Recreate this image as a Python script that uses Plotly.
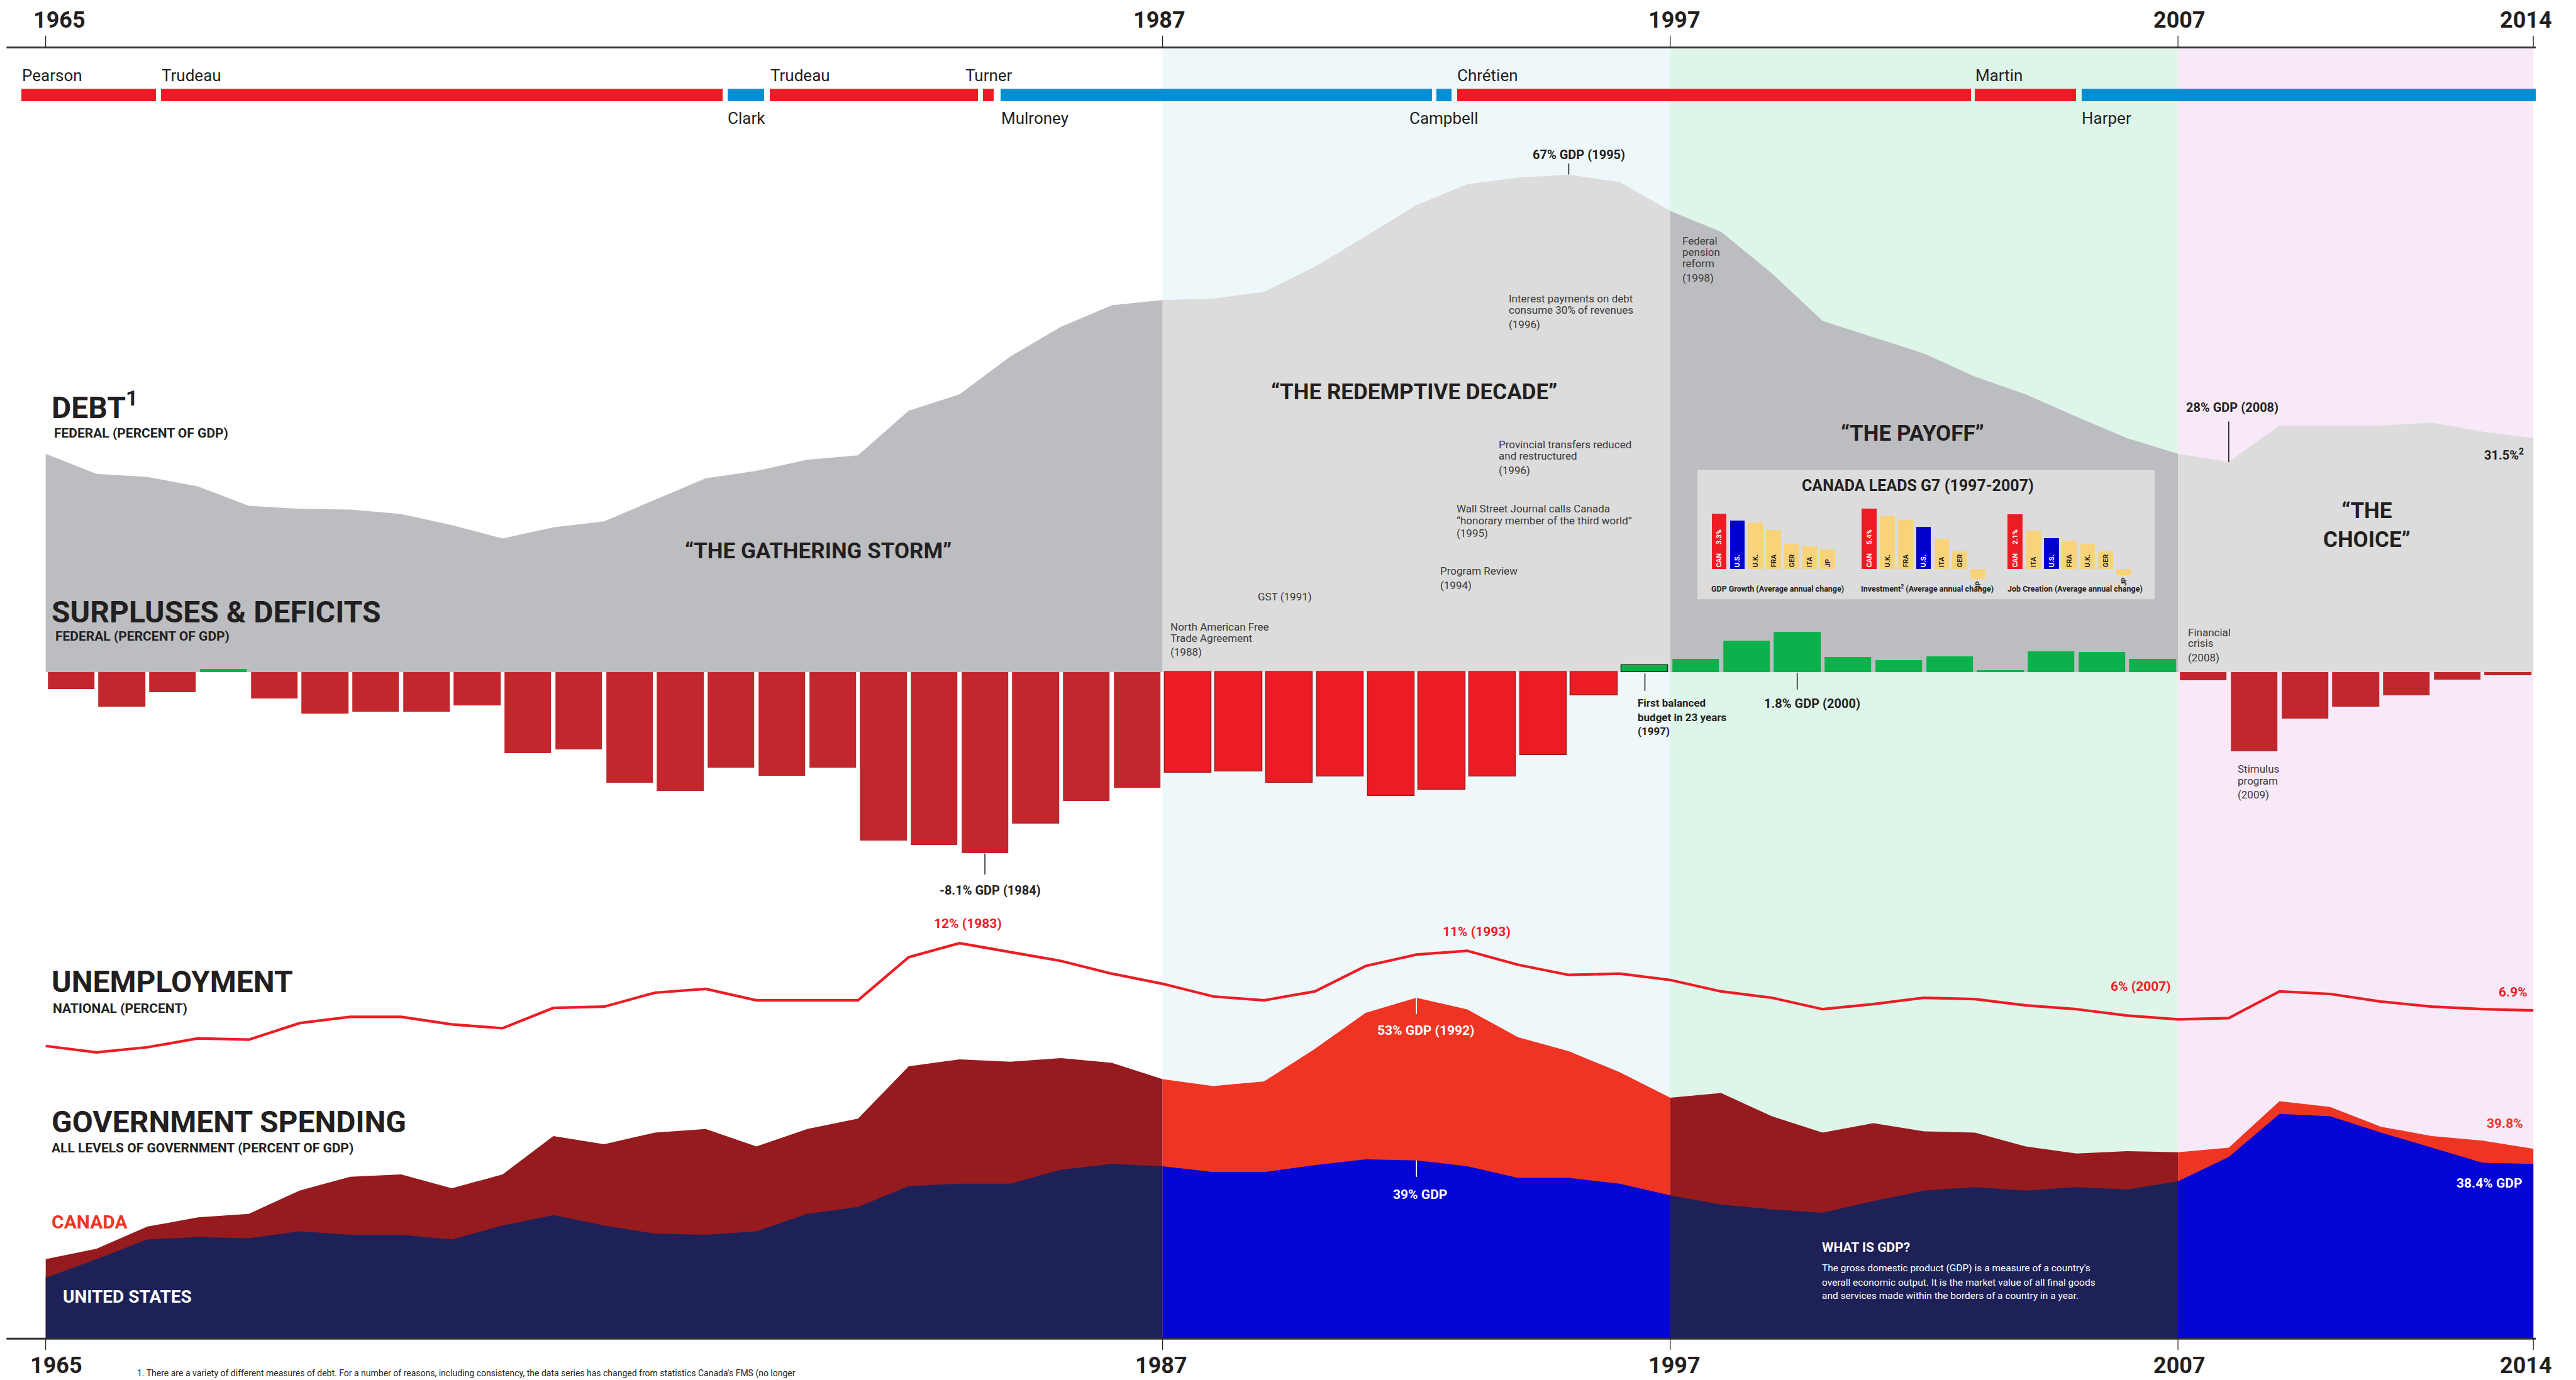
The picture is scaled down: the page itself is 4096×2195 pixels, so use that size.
import plotly.graph_objects as go

# ---------------------------------------------------------------- data
YEARS = list(range(1965, 2015))
DEBT_PCT_GDP = [29.4, 26.7, 26.3, 25.0, 22.4, 22.0, 21.9, 21.3, 19.8, 18.0,
                19.5, 20.3, 23.2, 26.1, 27.1, 28.6, 29.2, 35.2, 37.4, 42.5,
                46.5, 49.4, 50.1, 50.3, 51.2, 54.6, 58.7, 62.9, 65.7, 66.6,
                67.0, 66.0, 62.1, 59.3, 53.7, 47.3, 45.1, 42.9, 39.8, 37.4,
                34.4, 31.5, 29.4, 28.3, 33.2, 33.2, 33.2, 33.6, 32.4, 31.5]

FISCAL_YEARS = list(range(1966, 2015))
BALANCE_PCT_GDP = [-0.74, -1.54, -0.89, 0.14, -1.18, -1.85, -1.77, -1.77, -1.47, -3.61,
                   -3.46, -4.93, -5.30, -4.26, -4.64, -4.26, -7.51, -7.72, -8.09, -6.77,
                   -5.75, -5.17, -4.49, -4.43, -4.94, -4.65, -5.53, -5.24, -4.65, -3.70,
                   -1.04, 0.32, 0.59, 1.40, 1.79, 0.69, 0.54, 0.71, 0.09, 0.92,
                   0.90, 0.59, -0.36, -3.53, -2.07, -1.55, -1.04, -0.32, -0.15]

UNEMPLOYMENT = [3.9, 3.4, 3.8, 4.5, 4.4, 5.7, 6.2, 6.2, 5.6, 5.3,
                6.9, 7.0, 8.1, 8.4, 7.5, 7.5, 7.5, 10.9, 12.0, 11.3,
                10.6, 9.6, 8.8, 7.8, 7.5, 8.2, 10.2, 11.1, 11.4, 10.3,
                9.5, 9.6, 9.1, 8.2, 7.7, 6.8, 7.2, 7.7, 7.6, 7.1,
                6.8, 6.3, 6.0, 6.1, 8.2, 8.0, 7.4, 7.0, 6.8, 6.7]

SPEND_CANADA = [30.5, 31.4, 33.3, 34.1, 34.4, 36.4, 37.6, 37.8, 36.6, 37.8,
                41.1, 40.4, 41.4, 41.7, 40.2, 41.7, 42.6, 47.1, 47.7, 47.5,
                47.8, 47.4, 46.0, 45.4, 45.8, 48.6, 51.7, 53.0, 52.0, 49.6,
                48.4, 46.6, 44.4, 44.8, 42.8, 41.4, 42.2, 41.5, 41.4, 40.2,
                39.6, 39.8, 39.7, 40.1, 44.1, 43.6, 41.9, 41.1, 40.7, 40.0]
SPEND_US = [28.9, 30.5, 32.2, 32.4, 32.3, 32.9, 32.6, 32.6, 32.2, 33.4,
            34.3, 33.4, 32.7, 32.6, 32.9, 34.4, 35.0, 36.8, 37.0, 37.0,
            38.2, 38.7, 38.5, 38.0, 38.0, 38.6, 39.1, 39.0, 38.5, 37.5,
            37.5, 37.0, 36.0, 35.2, 34.8, 34.5, 35.5, 36.4, 36.7, 36.4,
            36.7, 36.5, 37.2, 39.3, 43.0, 42.8, 41.4, 40.1, 38.8, 38.7]

PM_NAMES = ["Pearson", "Trudeau", "Clark", "Trudeau", "Turner",
            "Mulroney", "Campbell", "Chrétien", "Martin", "Harper"]
PM_PARTY = ["Liberal", "Liberal", "Conservative", "Liberal", "Liberal",
            "Conservative", "Conservative", "Liberal", "Liberal", "Conservative"]
PM_START = [1964.53, 1967.28, 1978.43, 1979.27, 1983.47,
            1983.81, 1992.39, 1992.80, 2003.00, 2005.10]
PM_END = [1967.18, 1978.33, 1979.15, 1983.37, 1983.68,
          1992.31, 1992.69, 2002.92, 2005.00, 2014.05]

G7_GDP_COUNTRIES = ["CAN", "U.S.", "U.K.", "FRA", "GER", "ITA", "JP"]
G7_GDP_GROWTH = [3.3, 2.9, 2.8, 2.35, 1.53, 1.36, 1.16]
G7_INV_COUNTRIES = ["CAN", "U.K.", "FRA", "U.S.", "ITA", "GER", "JP"]
G7_INVESTMENT = [5.4, 4.77, 4.38, 3.80, 2.71, 1.59, -0.86]
G7_JOB_COUNTRIES = ["CAN", "ITA", "U.S.", "FRA", "U.K.", "GER", "JP"]
G7_JOB_CREATION = [2.1, 1.48, 1.18, 1.08, 0.97, 0.68, -0.22]

ERA_BOUNDS = [1965, 1987, 1997, 2007, 2014]
TICK_YEARS = [1965, 1987, 1997, 2007, 2014]

# ---------------------------------------------------------------- geometry helpers
REF_W, REF_H = 5920.0, 3172.0
OUT_W, OUT_H = 4096, 2195


def px(x):
    return x / REF_W


def py(y):
    return 1 - y / REF_H


YEAR_PX0, YEAR_PX1 = 105.0, 5822.0           # reference px of 1965 / 2014
PX_PER_YEAR = (YEAR_PX1 - YEAR_PX0) / 49.0
X_RANGE = [1964.4, 2014.2]
X_DOMAIN = [px(YEAR_PX0 + (X_RANGE[0] - 1965) * PX_PER_YEAR),
            px(YEAR_PX0 + (X_RANGE[1] - 1965) * PX_PER_YEAR)]

ZERO_LINE = 1545.0       # debt / balance baseline (ref px)
DEBT_SCALE = 17.07       # ref px per % GDP
BAL_SCALE = 51.5
UNEMP_SCALE, UNEMP_REF_V, UNEMP_REF_Y = 29.17, 12.0, 2168.0
SPEND_SCALE, SPEND_ZERO_Y, AXIS_BOTTOM = 26.71, 3709.0, 3077.0

FONT = "Roboto, 'Noto Sans', 'DejaVu Sans', sans-serif"
DARK = "#231F20"
NOTE = "#3A3A3A"
RED = "#ED1C24"
SPEND_RED = "#EE3524"
WHITE = "#FFFFFF"

DEBT_COLORS = ["#BCBDC0", "#DCDCDC", "#BCBDC0", "#DCDCDC"]
CAN_COLORS = ["#951B1F", "#EE3524", "#951B1F", "#EE3524"]
US_COLORS = ["#1E2157", "#0505D4", "#1E2157", "#0505D4"]
BAND_COLORS = [None, "#EEF7F9", "#DEF5E9", "#F7E9F8"]
PARTY_COLORS = {"Liberal": "#ED1C24", "Conservative": "#008FD5"}

fig = go.Figure()

# ---------------------------------------------------------------- debt area
for i in range(4):
    a, b = ERA_BOUNDS[i], ERA_BOUNDS[i + 1]
    idx = [k for k, yr in enumerate(YEARS) if a <= yr <= b]
    fig.add_trace(go.Scatter(
        x=[YEARS[k] for k in idx], y=[DEBT_PCT_GDP[k] for k in idx],
        mode="lines", fill="tozeroy", fillcolor=DEBT_COLORS[i],
        line=dict(width=0, color=DEBT_COLORS[i]),
        xaxis="x", yaxis="y", hoverinfo="skip", showlegend=False))

# ---------------------------------------------------------------- surplus / deficit bars
bar_x = [fy - 0.5 for fy in FISCAL_YEARS]
b_col, b_lcol, b_lw = [], [], []
for xc, v in zip(bar_x, BALANCE_PCT_GDP):
    era = next(i for i in range(4) if ERA_BOUNDS[i] <= xc < ERA_BOUNDS[i + 1])
    if v >= 0:
        b_col.append("#0DB14B")
        b_lcol.append("#17381F" if era == 1 else "#0DB14B")
    elif era == 1:
        b_col.append("#EC1C24")
        b_lcol.append("#A3161C")
    else:
        b_col.append("#C1272D")
        b_lcol.append("#C1272D")
    b_lw.append(1.5 if era == 1 else 0)
fig.add_trace(go.Bar(
    x=bar_x, y=BALANCE_PCT_GDP, width=0.92,
    marker=dict(color=b_col, line=dict(color=b_lcol, width=b_lw)),
    xaxis="x", yaxis="y2", hoverinfo="skip", showlegend=False))

# ---------------------------------------------------------------- unemployment
fig.add_trace(go.Scatter(
    x=YEARS, y=UNEMPLOYMENT, mode="lines",
    line=dict(color=RED, width=4.2),
    xaxis="x", yaxis="y3", hoverinfo="skip", showlegend=False))

# ---------------------------------------------------------------- government spending
for i in range(4):
    a, b = ERA_BOUNDS[i], ERA_BOUNDS[i + 1]
    idx = [k for k, yr in enumerate(YEARS) if a <= yr <= b]
    xs = [YEARS[k] for k in idx]
    fig.add_trace(go.Scatter(
        x=xs, y=[SPEND_CANADA[k] for k in idx], mode="lines", fill="tozeroy",
        fillcolor=CAN_COLORS[i], line=dict(width=0, color=CAN_COLORS[i]),
        xaxis="x", yaxis="y4", hoverinfo="skip", showlegend=False))
    fig.add_trace(go.Scatter(
        x=xs, y=[SPEND_US[k] for k in idx], mode="lines", fill="tozeroy",
        fillcolor=US_COLORS[i], line=dict(width=0, color=US_COLORS[i]),
        xaxis="x", yaxis="y4", hoverinfo="skip", showlegend=False))

# ---------------------------------------------------------------- prime minister strip
fig.add_trace(go.Bar(
    orientation="h", y=[0] * len(PM_NAMES),
    x=[e - s for s, e in zip(PM_START, PM_END)], base=PM_START, width=1,
    marker=dict(color=[PARTY_COLORS[p] for p in PM_PARTY], line=dict(width=0)),
    xaxis="x", yaxis="y5", hoverinfo="skip", showlegend=False))

# ---------------------------------------------------------------- G7 inset
MINI_OFFSETS = [0.0, 8.29, 16.35]
MINI_WIDTH = 0.82
MINI_SETS = [(G7_GDP_COUNTRIES, G7_GDP_GROWTH, "y6"),
             (G7_INV_COUNTRIES, G7_INVESTMENT, "y7"),
             (G7_JOB_COUNTRIES, G7_JOB_CREATION, "y8")]
MINI_FILL = {"CAN": "#ED1C24", "U.S.": "#0000CC"}
for off, (names, vals, yax) in zip(MINI_OFFSETS, MINI_SETS):
    texts, tcols, tpos, cols = [], [], [], []
    for n, v in zip(names, vals):
        texts.append(f"{n}\u2003 {v:.1f}%" if n == "CAN" else n)
        tcols.append(WHITE if n in MINI_FILL else DARK)
        cols.append(MINI_FILL.get(n, "#F8D37A"))
        tpos.append("inside" if v >= 0 else "outside")
    fig.add_trace(go.Bar(
        x=[off + i for i in range(len(names))], y=vals, width=MINI_WIDTH,
        marker=dict(color=cols, line=dict(width=0)),
        text=texts, textposition=tpos, textangle=-90,
        insidetextanchor="start", constraintext="none", cliponaxis=False,
        textfont=dict(family=FONT, size=11, color=tcols, weight=700),
        outsidetextfont=dict(family=FONT, size=11, color=tcols, weight=700),
        xaxis="x2", yaxis=yax, hoverinfo="skip", showlegend=False))

BOX = dict(x0=3901.0, x1=4952.0, y0=1080.0, y1=1378.0)
MINI_UNIT = 41.6
MINI_CAN_X = 3951.0
MINI_BASE = 1309.0
X2_RANGE = [(BOX["x0"] - MINI_CAN_X) / MINI_UNIT, (BOX["x1"] - MINI_CAN_X) / MINI_UNIT]


def mini_range(scale):
    return [-(BOX["y1"] - MINI_BASE) / scale, (MINI_BASE - BOX["y0"]) / scale]


Y6_RANGE = mini_range(38.6)
Y7_RANGE = mini_range(25.74)
Y8_RANGE = mini_range(60.3)

# ---------------------------------------------------------------- shapes
shapes = []
for i in (1, 2, 3):
    shapes.append(dict(type="rect", xref="x", yref="paper",
                       x0=ERA_BOUNDS[i], x1=ERA_BOUNDS[i + 1],
                       y0=py(AXIS_BOTTOM), y1=py(112),
                       fillcolor=BAND_COLORS[i], line=dict(width=0), layer="below"))
shapes.append(dict(type="rect", xref="x2", yref="y6",
                   x0=X2_RANGE[0], x1=X2_RANGE[1], y0=Y6_RANGE[0], y1=Y6_RANGE[1],
                   fillcolor="#DCDCDC", line=dict(width=0), layer="below"))
for yl in (109, AXIS_BOTTOM):
    shapes.append(dict(type="line", xref="paper", yref="paper",
                       x0=px(15), x1=px(5828), y0=py(yl), y1=py(yl),
                       line=dict(color="#333333", width=3)))
for t in TICK_YEARS:
    shapes.append(dict(type="line", xref="x", yref="paper", x0=t, x1=t,
                       y0=py(82), y1=py(109), line=dict(color=DARK, width=1.2)))
    shapes.append(dict(type="line", xref="x", yref="paper", x0=t, x1=t,
                       y0=py(AXIS_BOTTOM), y1=py(3103), line=dict(color=DARK, width=1.2)))


def leader(xv, ya, yb, color=DARK):
    shapes.append(dict(type="line", xref="x", yref="paper", x0=xv, x1=xv,
                       y0=py(ya), y1=py(yb), line=dict(color=color, width=1.6)))


leader(1995, 376, 401)
leader(2008, 969, 1062)
leader(1983.5, 1962, 2010)
leader(1999.5, 1547, 1585)
leader(1996.5, 1548, 1588)
leader(1992, 2293, 2331, WHITE)
leader(1992, 2667, 2705, WHITE)

# ---------------------------------------------------------------- annotations
ann = []


def label(text, x, y, size, color=DARK, bold=False, anchor="left", yanchor="middle", align="left"):
    ann.append(dict(text=text, x=px(x), y=py(y), xref="paper", yref="paper",
                    xanchor=anchor, yanchor=yanchor, align=align, showarrow=False,
                    font=dict(family=FONT, size=size, color=color, weight=700 if bold else 400)))


def lines(texts, x, ys, size, color=NOTE, bold=False):
    for t, y in zip(texts, ys):
        label(t, x, y, size, color, bold)


# year labels
for t, xc in zip(TICK_YEARS, [136, 2664, 3848, 5009, 5805]):
    label(str(t), xc, 46, 36, DARK, True, "center")
for t, xc in zip(TICK_YEARS, [129, 2669, 3848, 5009, 5805]):
    label(str(t), xc, REF_H, 36, DARK, True, "center", "bottom")

# prime ministers
for n, p, s, e in zip(PM_NAMES, PM_PARTY, PM_START, PM_END):
    ylab = 173 if p == "Liberal" else 271
    if e - s < 0.5:
        label(n, YEAR_PX0 + ((s + e) / 2 - 1965) * PX_PER_YEAR, ylab, 26, DARK, False, "center")
    else:
        label(n, YEAR_PX0 + (s - 1965) * PX_PER_YEAR - 2, ylab, 26, DARK, False, "left")

# section headings
label("DEBT<sup>1</sup>", 116, 933.5, 48, DARK, True)
label("FEDERAL (PERCENT OF GDP)", 121, 995, 21, DARK, True)
label("SURPLUSES &amp; DEFICITS", 116, 1406.5, 48, DARK, True)
label("FEDERAL (PERCENT OF GDP)", 125, 1463, 21, DARK, True)
label("UNEMPLOYMENT", 115, 2256, 48, DARK, True)
label("NATIONAL (PERCENT)", 119, 2318, 21, DARK, True)
label("GOVERNMENT SPENDING", 115, 2579, 48, DARK, True)
label("ALL LEVELS OF GOVERNMENT (PERCENT OF GDP)", 115, 2639, 21, DARK, True)
label("CANADA", 115, 2808.5, 30, SPEND_RED, True)
label("UNITED STATES", 141, 2980.5, 28, WHITE, True)

# era titles
label("“THE GATHERING STORM”", 1880, 1267, 35, DARK, True, "center")
label("“THE REDEMPTIVE DECADE”", 3250, 901, 35, DARK, True, "center")
label("“THE PAYOFF”", 4395, 997, 35, DARK, True, "center")
label("“THE<br>CHOICE”", 5440, 1208, 35, DARK, True, "center", align="center")

# value call-outs
label("67% GDP (1995)", 3629, 355, 20, DARK, True, "center")
label("28% GDP (2008)", 5130, 936, 20, DARK, True, "center")
label("31.5%<sup>2</sup>", 5755, 1045, 20, DARK, True, "center")
label("-8.1% GDP (1984)", 2275, 2046, 20, DARK, True, "center")
label("1.8% GDP (2000)", 4164, 1617, 20, DARK, True, "center")
label("12% (1983)", 2224, 2123, 21, RED, True, "center")
label("11% (1993)", 3394, 2142, 21, RED, True, "center")
label("6% (2007)", 4920, 2267.5, 21, RED, True, "center")
label("6.9%", 5776, 2281, 21, RED, True, "center")
label("53% GDP (1992)", 3276, 2368.7, 21, WHITE, True, "center")
label("39% GDP", 3263, 2746, 21, WHITE, True, "center")
label("39.8%", 5757, 2583, 21, SPEND_RED, True, "center")
label("38.4% GDP", 5720, 2719, 21, WHITE, True, "center")

# events
lines(["Federal", "pension", "reform", "(1998)"], 3864, [553, 580, 606, 639], 17)
lines(["Interest payments on debt", "consume 30% of revenues", "(1996)"], 3465, [686, 712, 745], 17)
lines(["Provincial transfers reduced", "and restructured", "(1996)"], 3441, [1021, 1048, 1081], 17)
lines(["Wall Street Journal calls Canada", "“honorary member of the third world”", "(1995)"],
      3344, [1169, 1196, 1226], 17)
lines(["Program Review", "(1994)"], 3307, [1312, 1345], 17)
lines(["GST (1991)"], 2888, [1371], 17)
lines(["North American Free", "Trade Agreement", "(1988)"], 2687, [1441, 1467, 1498], 17)
lines(["Financial", "crisis", "(2008)"], 5026, [1454, 1479, 1511], 17)
lines(["Stimulus", "program", "(2009)"], 5139, [1768, 1795, 1826], 17)
lines(["First balanced", "budget in 23 years", "(1997)"], 3761, [1616, 1649, 1680], 17, DARK, True)

# inset labels
label("CANADA LEADS G7 (1997-2007)", 4408, 1117, 25, DARK, True, "center")
label("GDP Growth (Average annual change)", 3930, 1353, 12.5, DARK, True)
label("Investment<sup>2</sup> (Average annual change)", 4274, 1353, 12.5, DARK, True)
label("Job Creation (Average annual change)", 4610, 1353, 12.5, DARK, True)

# GDP box
label("WHAT IS GDP?", 4184, 2867, 21, WHITE, True)
lines(["The gross domestic product (GDP) is a measure of a country's",
       "overall economic output. It is the market value of all final goods",
       "and services made within the borders of a country in a year."],
      4184, [2915, 2948, 2978.5], 15.5, WHITE)

# footnote along the bottom edge
label("1. There are a variety of different measures of debt. For a number of reasons, including "
      "consistency, the data series has changed from statistics Canada's FMS (no longer",
      312, REF_H, 14, DARK, False, "left", "bottom")

# ---------------------------------------------------------------- layout
hidden = dict(visible=False, fixedrange=True)
fig.update_layout(
    width=OUT_W, height=OUT_H,
    margin=dict(l=0, r=0, t=0, b=0, pad=0),
    paper_bgcolor="white", plot_bgcolor="rgba(0,0,0,0)",
    showlegend=False, barmode="overlay", bargap=0, hovermode=False,
    xaxis=dict(hidden, domain=X_DOMAIN, range=X_RANGE, anchor="y"),
    yaxis=dict(hidden, domain=[py(ZERO_LINE), 1], range=[0, ZERO_LINE / DEBT_SCALE], anchor="x"),
    yaxis2=dict(hidden, domain=[0, 1],
                range=[-(REF_H - ZERO_LINE) / BAL_SCALE, ZERO_LINE / BAL_SCALE], anchor="x"),
    yaxis3=dict(hidden, domain=[0, 1],
                range=[UNEMP_REF_V - (REF_H - UNEMP_REF_Y) / UNEMP_SCALE,
                       UNEMP_REF_V + UNEMP_REF_Y / UNEMP_SCALE], anchor="x"),
    yaxis4=dict(hidden, domain=[py(AXIS_BOTTOM), 1],
                range=[(SPEND_ZERO_Y - AXIS_BOTTOM) / SPEND_SCALE, SPEND_ZERO_Y / SPEND_SCALE],
                anchor="x"),
    yaxis5=dict(hidden, domain=[py(233), py(204)], range=[-0.5, 0.5], anchor="x"),
    xaxis2=dict(hidden, domain=[px(BOX["x0"]), px(BOX["x1"])], range=X2_RANGE, anchor="y6"),
    yaxis6=dict(hidden, domain=[py(BOX["y1"]), py(BOX["y0"])], range=Y6_RANGE, anchor="x2"),
    yaxis7=dict(hidden, overlaying="y6", range=Y7_RANGE, anchor="x2"),
    yaxis8=dict(hidden, overlaying="y6", range=Y8_RANGE, anchor="x2"),
    shapes=shapes,
    annotations=ann,
)

fig.write_html("out.html", config={"displayModeBar": False},
               post_script="document.body.style.margin='0';"
                           "document.body.style.overflow='hidden';")
